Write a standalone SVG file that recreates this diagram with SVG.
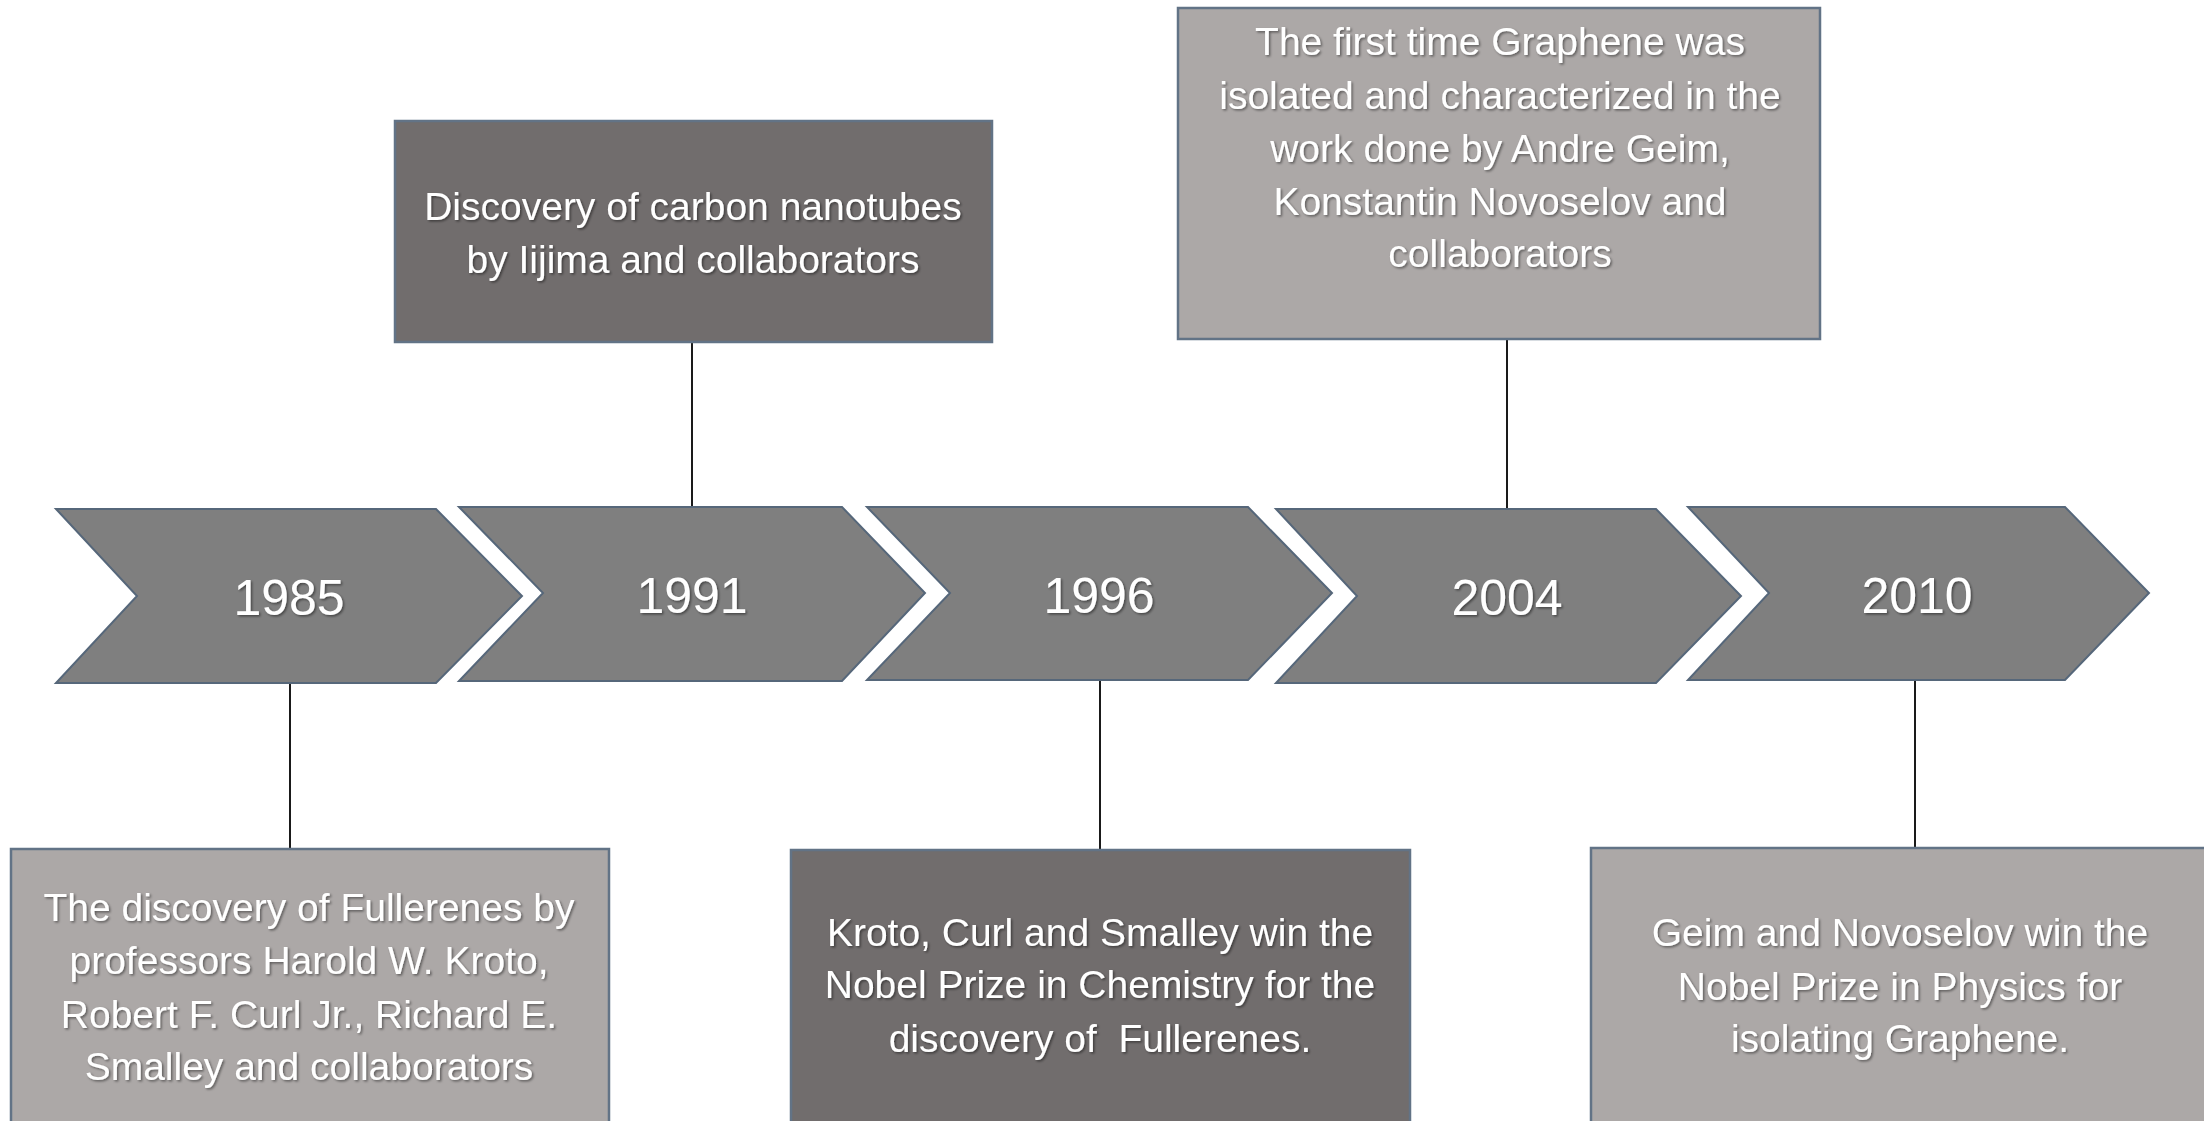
<svg xmlns="http://www.w3.org/2000/svg" width="2204" height="1121" viewBox="0 0 2204 1121">
<defs>
<filter id="sh" x="-5%" y="-20%" width="110%" height="140%">
<feDropShadow dx="1.5" dy="1.5" stdDeviation="1" flood-color="#000" flood-opacity="0.45"/>
</filter>
</defs>
<style>
.chev{fill:#7f7f7f;stroke:#56677a;stroke-width:2}
.dark{fill:#716d6d;stroke:#627386;stroke-width:2.5}
.light{fill:#aca8a7;stroke:#627386;stroke-width:2.5}
.yr{font-family:"Liberation Sans",Arial,sans-serif;font-size:50px;fill:#fff;text-anchor:middle;filter:url(#sh)}
.tx{font-family:"Liberation Sans",Arial,sans-serif;font-size:39px;fill:#fff;text-anchor:middle;filter:url(#sh)}
.con line{stroke:#1a1a1a;stroke-width:2}
</style>
<rect width="2204" height="1121" fill="#fff"/>
<g class="con" id="connectors">
<line x1="692" y1="342" x2="692" y2="507"/>
<line x1="1507" y1="339" x2="1507" y2="509"/>
<line x1="290" y1="683" x2="290" y2="849"/>
<line x1="1100" y1="680" x2="1100" y2="850"/>
<line x1="1915" y1="680" x2="1915" y2="848"/>
</g>
<g id="y1985"><polygon class="chev" points="56,509 436,509 522,596 436,683 56,683 137,596"/><text class="yr" x="289" y="615">1985</text></g>
<g id="y1991"><polygon class="chev" points="459,507 842,507 925,593 842,681 459,681 543,593"/><text class="yr" x="692" y="613">1991</text></g>
<g id="y1996"><polygon class="chev" points="867,507 1248,507 1332,593 1248,680 867,680 950,593"/><text class="yr" x="1099" y="613">1996</text></g>
<g id="y2004"><polygon class="chev" points="1276,509 1656,509 1741,596 1656,683 1276,683 1357,596"/><text class="yr" x="1507" y="615">2004</text></g>
<g id="y2010"><polygon class="chev" points="1688,507 2065,507 2149,593 2065,680 1688,680 1769,593"/><text class="yr" x="1917" y="613">2010</text></g>
<g id="box1991"><rect class="dark" x="395" y="121" width="597" height="221"/>
<text class="tx" x="693" y="220">Discovery of carbon nanotubes</text>
<text class="tx" x="693" y="273">by Iijima and collaborators</text></g>
<g id="box2004"><rect class="light" x="1178" y="8" width="642" height="331"/>
<text class="tx" x="1500" y="55">The first time Graphene was</text>
<text class="tx" x="1500" y="109">isolated and characterized in the</text>
<text class="tx" x="1500" y="162">work done by Andre Geim,</text>
<text class="tx" x="1500" y="215">Konstantin Novoselov and</text>
<text class="tx" x="1500" y="267">collaborators</text></g>
<g id="box1985"><rect class="light" x="11" y="849" width="598" height="290"/>
<text class="tx" x="309" y="921">The discovery of Fullerenes by</text>
<text class="tx" x="309" y="974">professors Harold W. Kroto,</text>
<text class="tx" x="309" y="1028">Robert F. Curl Jr., Richard E.</text>
<text class="tx" x="309" y="1080">Smalley and collaborators</text></g>
<g id="box1996"><rect class="dark" x="791" y="850" width="619" height="290"/>
<text class="tx" x="1100" y="946">Kroto, Curl and Smalley win the</text>
<text class="tx" x="1100" y="998">Nobel Prize in Chemistry for the</text>
<text class="tx" x="1100" y="1052">discovery of&#160; Fullerenes.</text></g>
<g id="box2010"><rect class="light" x="1591" y="848" width="630" height="290"/>
<text class="tx" x="1900" y="946">Geim and Novoselov win the</text>
<text class="tx" x="1900" y="1000">Nobel Prize in Physics for</text>
<text class="tx" x="1900" y="1052">isolating Graphene.</text></g>
</svg>
